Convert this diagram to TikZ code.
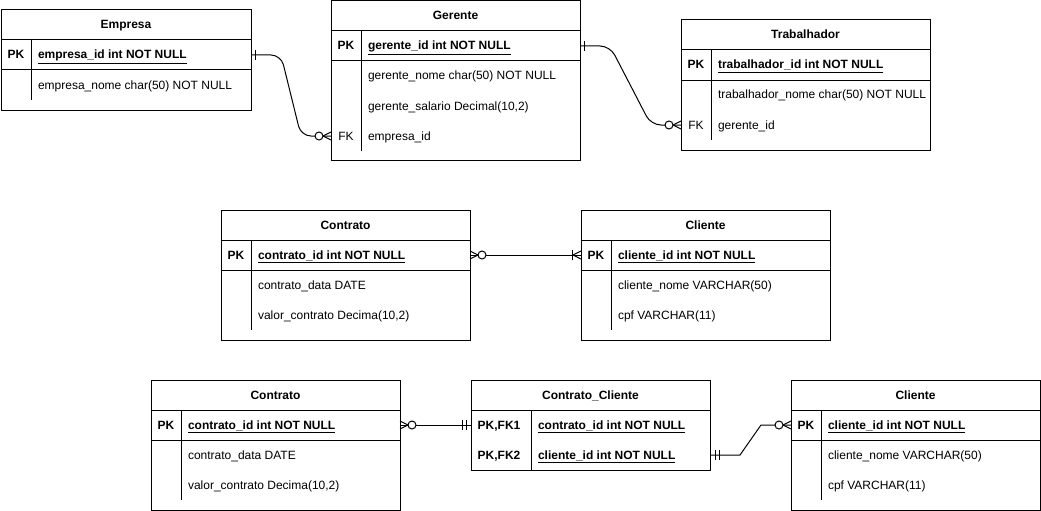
\documentclass[tikz,border=0pt]{standalone}
\usepackage{fontspec}
\setmainfont{Liberation Sans}
\usetikzlibrary{calc}
\tikzset{
  every node/.style={font=\fontsize{12}{14}\selectfont, inner sep=0pt, outer sep=0pt},
  ln/.style={line width=1pt, draw=black},
  ttl/.style={font=\fontsize{12}{14}\selectfont\bfseries, anchor=base},
  pkkey/.style={font=\fontsize{12}{14}\selectfont\bfseries, anchor=base},
  fkkey/.style={anchor=base},
  pkfld/.style={font=\fontsize{12}{14}\selectfont\bfseries, anchor=base west},
  fld/.style={anchor=base west},
  rowspan/.style={minimum height=30pt},
  zmW/.pic={\draw[ln] (0,-4) -- (-8,0) -- (0,4); \draw[ln, fill=white] (-12,0) circle[radius=4pt];},
  zmE/.pic={\draw[ln] (0,-4) -- (8,0) -- (0,4); \draw[ln, fill=white] (12,0) circle[radius=4pt];},
  oneE/.pic={\draw[ln] (4,-5) -- (4,5);},
  twoW/.pic={\draw[ln] (-5,-5) -- (-5,5) (-9,-5) -- (-9,5);},
  twoE/.pic={\draw[ln] (5,-5) -- (5,5) (9,-5) -- (9,5);},
  omW/.pic={\draw[ln] (0,-4) -- (-8,0) -- (0,4); \draw[ln] (-9,-5) -- (-9,5);},
}
\begin{document}
\begin{tikzpicture}[x=1pt, y=-1pt]
\useasboundingbox (0,0) rectangle (1041,511);

% ---------- Empresa ----------
\draw[ln] (1,10) rectangle (251,110);
\draw[ln] (1,40) -- (251,40) (1,70) -- (251,70) (31,40) -- (31,100);
\node[ttl] (emp-t) at (126,29) {Empresa};
\node[pkkey] (emp-k1) at (16,59) {PK};
\node[pkfld] (emp-f1) at (38,59) {\underline{empresa\_id int NOT NULL}};
\node[fld] (emp-f2) at (38,89) {empresa\_nome char(50) NOT NULL};
\node[rowspan, minimum width=250pt] (emp-r1) at (126,55) {};

% ---------- Gerente ----------
\draw[ln] (331,1) rectangle (580,160);
\draw[ln] (331,31) -- (580,31) (331,61) -- (580,61) (361,31) -- (361,151);
\node[ttl] (ger-t) at (455.5,20) {Gerente};
\node[pkkey] (ger-k1) at (346,50) {PK};
\node[fkkey] (ger-k4) at (346,140) {FK};
\node[pkfld] (ger-f1) at (368,50) {\underline{gerente\_id int NOT NULL}};
\node[fld] (ger-f2) at (368,80) {gerente\_nome char(50) NOT NULL};
\node[fld] (ger-f3) at (368,110) {gerente\_salario Decimal(10,2)};
\node[fld] (ger-f4) at (368,140) {empresa\_id};
\node[rowspan, minimum width=249pt] (ger-r1) at (455.5,46) {};
\node[rowspan, minimum width=249pt] (ger-r4) at (455.5,136) {};

% ---------- Trabalhador ----------
\draw[ln] (681,20) rectangle (930,150);
\draw[ln] (681,50) -- (930,50) (681,80) -- (930,80) (711,50) -- (711,140);
\node[ttl] (tra-t) at (805.5,39) {Trabalhador};
\node[pkkey] (tra-k1) at (696,69) {PK};
\node[fkkey] (tra-k3) at (696,129) {FK};
\node[pkfld] (tra-f1) at (718,69) {\underline{trabalhador\_id int NOT NULL}};
\node[fld] (tra-f2) at (718,99) {trabalhador\_nome char(50) NOT NULL};
\node[fld] (tra-f3) at (718,129) {gerente\_id};
\node[rowspan, minimum width=249pt] (tra-r3) at (805.5,125) {};

% ---------- Contrato (middle) ----------
\draw[ln] (221,210) rectangle (470,340);
\draw[ln] (221,240) -- (470,240) (221,270) -- (470,270) (251,240) -- (251,330);
\node[ttl] (con1-t) at (345.5,229) {Contrato};
\node[pkkey] (con1-k1) at (236,259) {PK};
\node[pkfld] (con1-f1) at (258,259) {\underline{contrato\_id int NOT NULL}};
\node[fld] (con1-f2) at (258,289) {contrato\_data DATE};
\node[fld] (con1-f3) at (258,319) {valor\_contrato Decima(10,2)};
\node[rowspan, minimum width=249pt] (con1-r1) at (345.5,255) {};

% ---------- Cliente (middle) ----------
\draw[ln] (581,210) rectangle (830,340);
\draw[ln] (581,240) -- (830,240) (581,270) -- (830,270) (611,240) -- (611,330);
\node[ttl] (cli1-t) at (705.5,229) {Cliente};
\node[pkkey] (cli1-k1) at (596,259) {PK};
\node[pkfld] (cli1-f1) at (618,259) {\underline{cliente\_id int NOT NULL}};
\node[fld] (cli1-f2) at (618,289) {cliente\_nome VARCHAR(50)};
\node[fld] (cli1-f3) at (618,319) {cpf VARCHAR(11)};
\node[rowspan, minimum width=249pt] (cli1-r1) at (705.5,255) {};

% ---------- Contrato (bottom) ----------
\draw[ln] (151,380) rectangle (400,510);
\draw[ln] (151,410) -- (400,410) (151,440) -- (400,440) (181,410) -- (181,500);
\node[ttl] (con2-t) at (275.5,399) {Contrato};
\node[pkkey] (con2-k1) at (166,429) {PK};
\node[pkfld] (con2-f1) at (188,429) {\underline{contrato\_id int NOT NULL}};
\node[fld] (con2-f2) at (188,459) {contrato\_data DATE};
\node[fld] (con2-f3) at (188,489) {valor\_contrato Decima(10,2)};
\node[rowspan, minimum width=249pt] (con2-r1) at (275.5,425) {};

% ---------- Contrato_Cliente ----------
\draw[ln] (471,380) rectangle (710,470);
\draw[ln] (471,410) -- (710,410) (531,410) -- (531,470);
\node[ttl] (cc-t) at (590.5,399) {Contrato\_Cliente};
\node[pkkey] (cc-k1) at (499,429) {PK,FK1};
\node[pkkey] (cc-k2) at (499,459) {PK,FK2};
\node[pkfld] (cc-f1) at (538,429) {\underline{contrato\_id int NOT NULL}};
\node[pkfld] (cc-f2) at (538,459) {\underline{cliente\_id int NOT NULL}};
\node[rowspan, minimum width=239pt] (cc-r1) at (590.5,425) {};
\node[rowspan, minimum width=239pt] (cc-r2) at (590.5,455) {};

% ---------- Cliente (bottom) ----------
\draw[ln] (791,380) rectangle (1040,510);
\draw[ln] (791,410) -- (1040,410) (791,440) -- (1040,440) (821,410) -- (821,500);
\node[ttl] (cli2-t) at (915.5,399) {Cliente};
\node[pkkey] (cli2-k1) at (806,429) {PK};
\node[pkfld] (cli2-f1) at (828,429) {\underline{cliente\_id int NOT NULL}};
\node[fld] (cli2-f2) at (828,459) {cliente\_nome VARCHAR(50)};
\node[fld] (cli2-f3) at (828,489) {cpf VARCHAR(11)};
\node[rowspan, minimum width=249pt] (cli2-r1) at (915.5,425) {};

% ---------- Connectors ----------
\draw[ln, rounded corners=10pt] (emp-r1.east) -- ++(30,0) -- ($(ger-r4.west)+(-30,0)$) -- (ger-r4.west);
\pic at (emp-r1.east) {oneE};
\pic at (ger-r4.west) {zmW};

\draw[ln, rounded corners=10pt] (ger-r1.east) -- ++(30,0) -- ($(tra-r3.west)+(-30,0)$) -- (tra-r3.west);
\pic at (ger-r1.east) {oneE};
\pic at (tra-r3.west) {zmW};

\draw[ln] (con1-r1.east) -- (cli1-r1.west);
\pic at (con1-r1.east) {zmE};
\pic at (cli1-r1.west) {omW};

\draw[ln] (con2-r1.east) -- (cc-r1.west);
\pic at (con2-r1.east) {zmE};
\pic at (cc-r1.west) {twoW};

\draw[ln] (cc-r2.east) -- ++(30,0) -- ($(cli2-r1.west)+(-30,0)$) -- (cli2-r1.west);
\pic at (cc-r2.east) {twoE};
\pic at (cli2-r1.west) {zmW};
\end{tikzpicture}
\end{document}
